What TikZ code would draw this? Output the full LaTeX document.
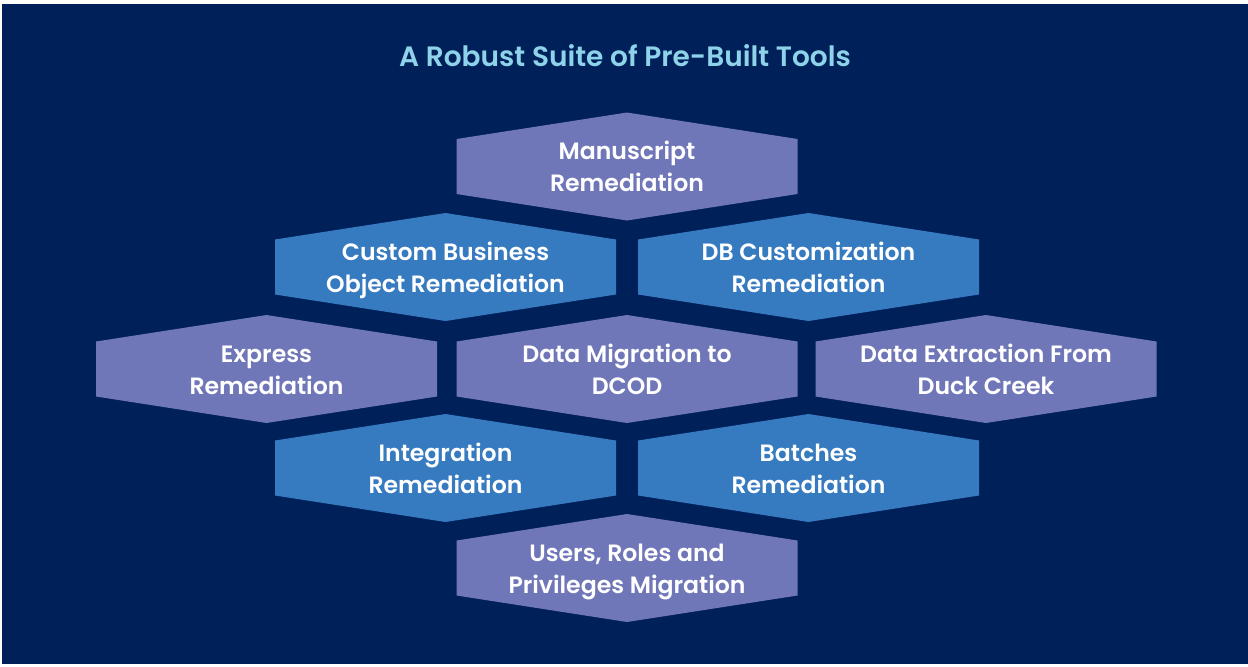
\documentclass[tikz,border=0pt]{standalone}
\usepackage{fontspec}
\setmainfont{Poppins}[UprightFont=*-Medium,BoldFont=*-SemiBold]
\definecolor{bgnavy}{RGB}{0,32,90}
\definecolor{hexpurple}{RGB}{112,119,184}
\definecolor{hexblue}{RGB}{54,122,192}
\definecolor{titlecyan}{RGB}{142,211,233}
\tikzset{
  celltext/.style={text=white, align=center, font=\bfseries\fontsize{11.8}{16}\selectfont, inner sep=0pt, yshift=-1.3pt},
  titletext/.style={text=titlecyan, font=\bfseries\fontsize{14}{16}\selectfont, inner sep=0pt, anchor=base},
}
\newcommand\hexcell[5]{%
  \begin{scope}[shift={(#2,#3)}]
    \fill[#4] (-170.5,-27.5) -- (0,-54) -- (170.5,-27.5) -- (170.5,27.5) -- (0,54) -- (-170.5,27.5) -- cycle;
  \end{scope}
  \node[celltext] (#1) at (#2,#3) {#5};
}
\begin{document}
\begin{tikzpicture}[x=0.5pt,y=-0.5pt]
  \useasboundingbox (0,0) rectangle (1248,666);
  \fill[white] (0,0) rectangle (1248,666);
  \fill[bgnavy] (2,4) rectangle (1248,664);
  \node[titletext] (title) at (625,66) {A Robust Suite of Pre-Built Tools};
  \hexcell{manu}{627}{166.5}{hexpurple}{\strut Manuscript\\\strut Remediation}
  \hexcell{cbo}{445.5}{267}{hexblue}{\strut Custom Business\\\strut Object Remediation}
  \hexcell{dbc}{808.5}{267}{hexblue}{\strut DB Customization\\\strut Remediation}
  \hexcell{expr}{266.5}{369}{hexpurple}{\strut Express\\\strut Remediation}
  \hexcell{dmig}{627}{369}{hexpurple}{\strut Data Migration to\\\strut DCOD}
  \hexcell{dext}{986}{369}{hexpurple}{\strut Data Extraction From\\\strut Duck Creek}
  \hexcell{integ}{445.5}{468}{hexblue}{\strut Integration\\\strut Remediation}
  \hexcell{batch}{808.5}{468}{hexblue}{\strut Batches\\\strut Remediation}
  \hexcell{users}{627}{568}{hexpurple}{\strut Users, Roles and\\\strut Privileges Migration}
\end{tikzpicture}
\end{document}
